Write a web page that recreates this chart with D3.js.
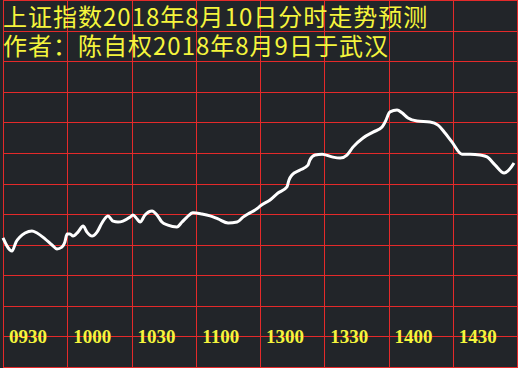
<!DOCTYPE html>
<html>
<head>
<meta charset="utf-8">
<script src="https://cdn.jsdelivr.net/npm/d3@7"></script>
<style>
  body { margin: 0; background: #222529; }
  svg { display: block; }
</style>
</head>
<body>
<svg width="518" height="368"></svg>
<script>
const width = 518;
const height = 368;

// title lines (yellow text on top)
const titleLines = ['上证指数2018年8月10日分时走势预测', '作者：陈自权2018年8月9日于武汉'];

// time axis labels, one per 30 trading minutes
const tickLabels = ['0930', '1000', '1030', '1100', '1300', '1330', '1400', '1430'];

// minutes since open (0..240) and forecast value (in grid units, 0 = bottom line)
const minutes = [0, 4.2, 6.1, 7.9, 10.3, 13.5, 15.9, 19.6, 22.9, 25.2, 27.5, 28.9, 29.9, 31.3, 32.7, 35.0,
  37.4, 39.2, 41.6, 43.9, 46.2, 49.0, 51.4, 53.7, 56.0, 59.3, 60.7, 62.6, 64.0, 66.3, 69.6, 71.9,
  74.2, 77.0, 81.2, 83.6, 85.9, 88.7, 92.9, 96.7, 100.4, 105.1, 109.3, 112.1, 115.3, 119.1, 120.0,
  124.7, 128.4, 132.6, 133.5, 134.9, 138.7, 142.4, 143.3, 145.7, 149.0, 153.6, 157.4, 160.6, 163.4,
  168.1, 172.8, 177.0, 178.4, 180.7, 184.0, 186.3, 189.1, 193.3, 199.4, 203.1, 206.4, 209.6, 214.3,
  218.1, 222.7, 226.0, 229.7, 234.0, 235.8, 238.6];
const values = [4.22, 3.79, 4.09, 4.25, 4.38, 4.45, 4.38, 4.19, 3.99, 3.86, 3.92, 4.09, 4.35, 4.35, 4.28, 4.41,
  4.61, 4.41, 4.28, 4.41, 4.71, 4.94, 4.77, 4.74, 4.77, 4.90, 4.97, 4.84, 4.74, 4.97, 5.10, 4.97,
  4.74, 4.64, 4.58, 4.74, 4.90, 5.04, 5.00, 4.94, 4.84, 4.71, 4.74, 4.90, 5.04, 5.20, 5.26,
  5.46, 5.69, 5.89, 6.11, 6.28, 6.44, 6.60, 6.77, 6.93, 6.96, 6.87, 6.83, 6.93, 7.19,
  7.49, 7.68, 7.85, 8.01, 8.34, 8.40, 8.31, 8.14, 8.04, 8.01, 7.91, 7.65, 7.36, 6.96,
  6.96, 6.93, 6.87, 6.61, 6.34, 6.41, 6.67];

const data = minutes.map((m, i) => ({ t: m, v: values[i] }));

const x = d3.scaleLinear().domain([0, 240]).range([3, 517]);
const y = d3.scaleLinear().domain([0, 12]).range([367, 0]);

const svg = d3.select('svg');

svg.append('rect')
  .attr('width', width)
  .attr('height', height)
  .attr('fill', '#222529');

// grid: every 30 minutes and every unit
const grid = svg.append('g')
  .attr('stroke', '#e42a2a')
  .attr('stroke-width', 1)
  .attr('shape-rendering', 'crispEdges');

grid.selectAll('line.v')
  .data(d3.range(0, 241, 30))
  .join('line')
  .attr('class', 'v')
  .attr('x1', d => Math.round(x(d)) + 0.5)
  .attr('x2', d => Math.round(x(d)) + 0.5)
  .attr('y1', 0)
  .attr('y2', height);

grid.selectAll('line.h')
  .data(d3.range(0, 13))
  .join('line')
  .attr('class', 'h')
  .attr('x1', 3)
  .attr('x2', width)
  .attr('y1', d => Math.round(y(d)) + 0.5)
  .attr('y2', d => Math.round(y(d)) + 0.5);

// forecast curve
const line = d3.line()
  .x(d => x(d.t))
  .y(d => y(d.v))
  .curve(d3.curveMonotoneX);

svg.append('path')
  .datum(data)
  .attr('d', line)
  .attr('fill', 'none')
  .attr('stroke', '#ffffff')
  .attr('stroke-width', 3)
  .attr('stroke-linejoin', 'round');

// time labels
svg.append('g')
  .selectAll('text')
  .data(tickLabels)
  .join('text')
  .attr('x', (d, i) => x(i * 30) + 25)
  .attr('y', 343)
  .attr('text-anchor', 'middle')
  .attr('fill', '#f5f53c')
  .attr('font-family', '"Liberation Serif", serif')
  .attr('font-weight', 'bold')
  .attr('font-size', 19)
  .text(d => d);

// title
svg.append('g')
  .selectAll('text')
  .data(titleLines)
  .join('text')
  .attr('x', 3)
  .attr('y', (d, i) => 26 + i * 29)
  .attr('fill', '#f5f53c')
  .attr('font-family', '"Noto Sans CJK SC", sans-serif')
  .attr('font-size', 24)
  .attr('letter-spacing', 1)
  .text(d => d);
</script>
</body>
</html>
